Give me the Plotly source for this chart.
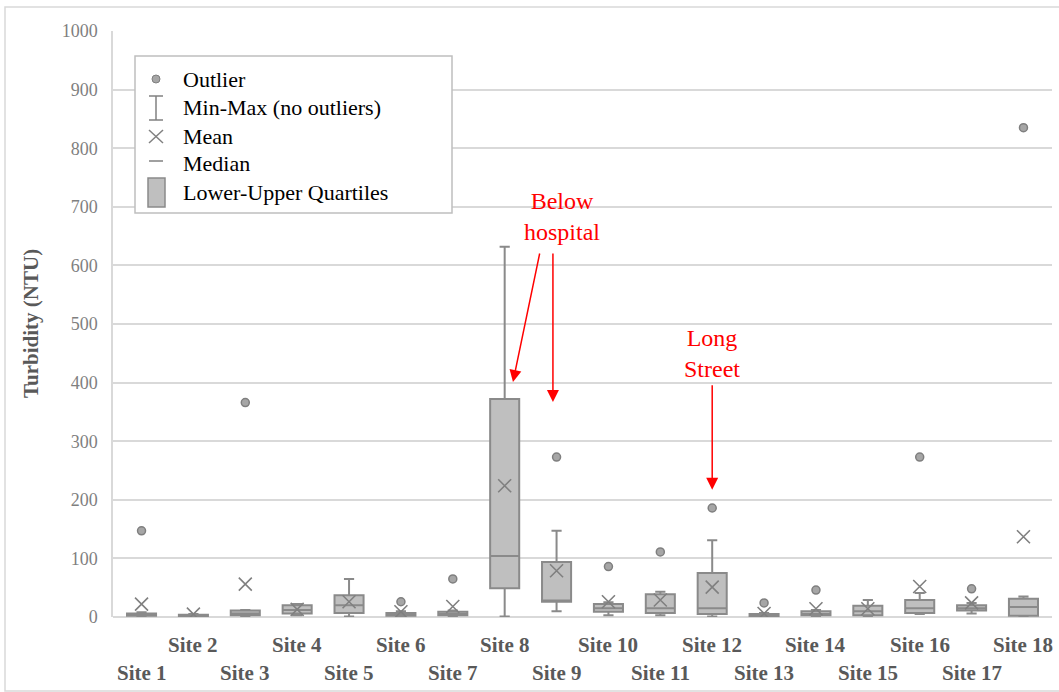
import plotly.graph_objects as go

# ---- data ----
sites = [f"Site {i}" for i in range(1, 19)]
positions = list(range(1, 19))
q1 = [2, 1, 3, 6, 7, 2, 3, 49, 26, 9, 7, 5, 1, 3, 3, 7, 11, 2]
median = [4, 2, 6, 12, 20, 4, 5, 104, 28, 15, 15, 15, 3, 5, 10, 15, 15, 17]
q3 = [6, 4, 11, 20, 37, 7, 9, 372, 94, 22, 39, 75, 5, 10, 19, 29, 20, 31]
whisk_lo = [0, 0, 1, 3, 1, 1, 1, 1, 10, 3, 3, 1, 0, 1, 1, 5, 6, 0]
whisk_hi = [8, 5, 12, 22, 65, 10, 11, 632, 147, 25, 43, 131, 7, 12, 29, 41, 24, 35]
mean = [22, 5, 56, 13, 26, 9, 18, 224, 79, 26, 29, 51, 6, 14, 14, 52, 24, 137]
outlier_site = [1, 3, 6, 7, 9, 10, 11, 12, 13, 14, 16, 17, 18]
outlier_val = [147, 366, 26, 65, 273, 86, 111, 186, 24, 46, 273, 48, 835]
y_ticks = [0, 100, 200, 300, 400, 500, 600, 700, 800, 900, 1000]

FONT = "Liberation Serif, Times New Roman, serif"
GRID = "#d9d9d9"
BOXLINE = "#8a8a8a"
BOXFILL = "#bfbfbf"

# layout geometry (pixels)
W, H = 1059, 692
ML, MR, MT, MB = 113, 7, 31, 75
PW, PH = W - ML - MR, H - MT - MB


def px2x(px):
    return (px - ML) / PW


def px2y(py):
    return (H - MB - py) / PH


fig = go.Figure()

fig.add_trace(go.Box(
    x=positions, q1=q1, median=median, q3=q3,
    lowerfence=whisk_lo, upperfence=whisk_hi,
    boxpoints=False, width=0.56, whiskerwidth=0.35,
    fillcolor=BOXFILL, line=dict(color=BOXLINE, width=2),
    showlegend=False, hoverinfo="skip",
))

fig.add_trace(go.Scatter(
    x=positions, y=mean, mode="markers",
    marker=dict(symbol="x-thin", size=13,
                line=dict(color="#808080", width=1.6)),
    showlegend=False, hoverinfo="skip",
))

fig.add_trace(go.Scatter(
    x=outlier_site, y=outlier_val, mode="markers",
    marker=dict(symbol="circle", size=8, color="#a6a6a6",
                line=dict(color="#7f7f7f", width=1.5)),
    showlegend=False, hoverinfo="skip",
))

shapes = []
annotations = []

# outer chart border
shapes.append(dict(type="rect", xref="paper", yref="paper",
                   x0=px2x(5), x1=px2x(1064), y0=px2y(691), y1=px2y(7),
                   line=dict(color="#d9d9d9", width=1.5), layer="below"))

# ---- manual legend ----
shapes.append(dict(type="rect", xref="paper", yref="paper",
                   x0=px2x(135), x1=px2x(452), y0=px2y(213), y1=px2y(56),
                   line=dict(color="#bfbfbf", width=1.5), fillcolor="white"))
leg_y = [79, 108, 136, 163, 192]
leg_text = ["Outlier", "Min-Max (no outliers)", "Mean", "Median",
            "Lower-Upper Quartiles"]
sx = 156
# outlier dot
shapes.append(dict(type="circle", xref="paper", yref="paper",
                   x0=px2x(sx - 4), x1=px2x(sx + 4),
                   y0=px2y(leg_y[0] + 4), y1=px2y(leg_y[0] - 4),
                   fillcolor="#a6a6a6", line=dict(color="#7f7f7f", width=1)))
# min-max I
for (xa, ya, xb, yb) in [(sx, 96, sx, 120), (sx - 7, 96, sx + 7, 96),
                         (sx - 7, 120, sx + 7, 120)]:
    shapes.append(dict(type="line", xref="paper", yref="paper",
                       x0=px2x(xa), y0=px2y(ya), x1=px2x(xb), y1=px2y(yb),
                       line=dict(color="#808080", width=1.5)))
# mean X
for (xa, ya, xb, yb) in [(sx - 7, 130, sx + 7, 143), (sx - 7, 143, sx + 7, 130)]:
    shapes.append(dict(type="line", xref="paper", yref="paper",
                       x0=px2x(xa), y0=px2y(ya), x1=px2x(xb), y1=px2y(yb),
                       line=dict(color="#808080", width=1.5)))
# median dash
shapes.append(dict(type="line", xref="paper", yref="paper",
                   x0=px2x(sx - 7), y0=px2y(161), x1=px2x(sx + 7), y1=px2y(161),
                   line=dict(color="#808080", width=1.5)))
# quartile rect
shapes.append(dict(type="rect", xref="paper", yref="paper",
                   x0=px2x(sx - 8), x1=px2x(sx + 9), y0=px2y(207), y1=px2y(178),
                   fillcolor=BOXFILL, line=dict(color=BOXLINE, width=1.5)))
for t, yy in zip(leg_text, leg_y):
    annotations.append(dict(text=t, xref="paper", yref="paper",
                            x=px2x(181), y=px2y(yy), xanchor="left",
                            yanchor="middle", showarrow=False,
                            font=dict(family=FONT, size=22, color="#000000")))

# ---- site labels (staggered) ----
for i, (p, s) in enumerate(zip(positions, sites)):
    row_y = -0.048 if (i % 2 == 1) else -0.096
    annotations.append(dict(text=f"<b>{s}</b>", x=p, xref="x",
                            y=row_y, yref="paper", xanchor="center",
                            yanchor="middle", showarrow=False,
                            font=dict(family=FONT, size=21, color="#595959")))

# ---- y title ----
annotations.append(dict(text="<b>Turbidity (NTU)</b>", xref="paper", yref="paper",
                        x=px2x(31), y=0.5, xanchor="center", yanchor="middle",
                        textangle=-90, showarrow=False,
                        font=dict(family=FONT, size=21, color="#595959")))

# ---- red callouts ----
RED = "#ff0000"
annotations.append(dict(text="Below<br>hospital", xref="x", yref="y",
                        x=9.1, y=683, showarrow=False,
                        font=dict(family=FONT, size=24, color=RED)))
annotations.append(dict(text="Long<br>Street", xref="x", yref="y",
                        x=12.0, y=450, showarrow=False,
                        font=dict(family=FONT, size=24, color=RED)))
for (tx, ty, ax, ay) in [(8.16, 401, 27, -130), (8.93, 367, 0, -150),
                         (12.0, 217, 0, -106)]:
    annotations.append(dict(text="", xref="x", yref="y", x=tx, y=ty,
                            ax=ax, ay=ay, showarrow=True, arrowhead=2,
                            arrowsize=1.6, arrowwidth=1.5, arrowcolor=RED,
                            standoff=0))

fig.update_layout(
    width=W, height=H,
    margin=dict(l=ML, r=MR, t=MT, b=MB, autoexpand=False),
    paper_bgcolor="white", plot_bgcolor="white",
    font=dict(family=FONT),
    shapes=shapes, annotations=annotations,
    xaxis=dict(range=[0.45, 18.55], showgrid=False, zeroline=False,
               showticklabels=False, ticks="", showline=False),
    yaxis=dict(range=[0, 1000], tickvals=y_ticks, showgrid=True,
               gridcolor=GRID, gridwidth=1.5, zeroline=True,
               zerolinecolor=GRID, zerolinewidth=1.5,
               showline=True, linecolor=GRID, linewidth=1.5,
               ticks="", ticklabelstandoff=10,
               tickfont=dict(family=FONT, size=18, color="#7f7f7f")),
    showlegend=False,
)

fig.write_html("out.html")
